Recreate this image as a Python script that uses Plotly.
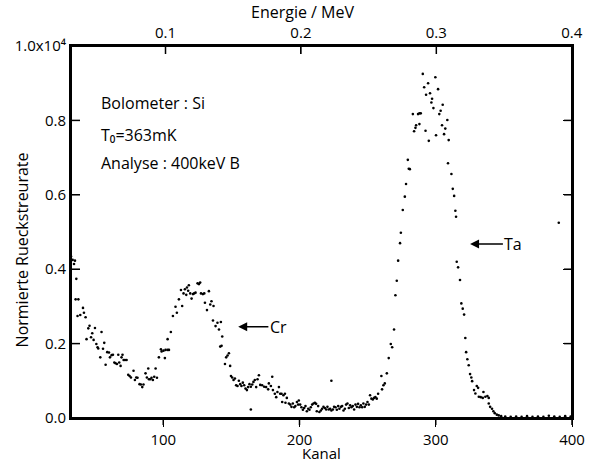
import plotly.graph_objects as go

# ---- data (Kanal, normalised backscatter rate) ----
kanal_bg = [32.3, 33.5, 34.5, 35.2, 36.2, 35.7, 37.7, 37.1, 39.1, 41.1, 41.8, 43.0, 43.7, 45.0, 45.9,
            47.0, 47.9, 48.9, 49.9, 50.9, 51.8, 52.3, 53.8, 54.7, 55.8, 56.7, 57.7, 58.9, 60.2, 60.9,
            62.1, 63.1, 64.1, 65.0, 66.0, 67.0, 67.7, 68.7, 69.4, 70.1, 70.9, 71.9, 73.1, 74.3, 75.3,
            76.3, 78.2, 79.2, 80.2, 81.1, 82.6, 83.6, 84.6, 85.5, 87.0, 88.0, 89.0, 89.5, 90.5, 91.4,
            92.4, 93.4, 94.4, 95.4, 96.8, 98.3]
rate_bg = [0.435, 0.425, 0.414, 0.423, 0.374, 0.319, 0.319, 0.274, 0.277, 0.296, 0.283, 0.271, 0.212, 0.241, 0.248,
           0.217, 0.228, 0.210, 0.242, 0.199, 0.190, 0.187, 0.163, 0.231, 0.186, 0.202, 0.143, 0.177, 0.176, 0.163,
           0.169, 0.170, 0.149, 0.147, 0.145, 0.170, 0.149, 0.140, 0.163, 0.170, 0.156, 0.156, 0.156, 0.116, 0.113,
           0.109, 0.127, 0.102, 0.109, 0.108, 0.091, 0.090, 0.083, 0.090, 0.120, 0.109, 0.133, 0.104, 0.104, 0.108,
           0.102, 0.111, 0.133, 0.108, 0.163, 0.185]

kanal_cr = [98.8, 100.2, 101.7, 103.2, 104.2, 101.2, 103.2, 105.6, 107.1, 109.0, 110.0, 111.5, 113.0, 113.9, 114.9,
            115.9, 116.9, 117.4, 118.3, 118.8, 119.8, 120.8, 121.8, 122.7, 123.7, 125.2, 126.2, 127.1, 127.7, 129.1,
            130.1, 130.6, 132.1, 133.5, 134.5, 135.4, 136.9, 136.5, 138.4, 139.8, 140.9, 142.3, 143.3, 141.8, 142.8,
            145.3, 146.2, 147.2, 148.2, 149.1, 149.7, 150.6, 151.6, 152.6, 153.5, 154.5, 155.5, 156.5, 157.4, 158.4,
            159.4, 160.4, 161.4, 162.3, 163.3, 164.3, 165.3, 166.2, 167.2, 168.2, 169.2, 170.2, 164.3]
rate_cr = [0.179, 0.181, 0.183, 0.183, 0.183, 0.161, 0.212, 0.231, 0.274, 0.299, 0.283, 0.319, 0.344, 0.301, 0.335,
           0.346, 0.331, 0.351, 0.342, 0.357, 0.335, 0.321, 0.333, 0.335, 0.337, 0.362, 0.360, 0.364, 0.335, 0.333,
           0.335, 0.310, 0.290, 0.341, 0.305, 0.314, 0.301, 0.262, 0.247, 0.256, 0.238, 0.258, 0.219, 0.192, 0.194,
           0.145, 0.163, 0.168, 0.174, 0.140, 0.113, 0.109, 0.102, 0.106, 0.088, 0.086, 0.100, 0.091, 0.086, 0.095,
           0.088, 0.079, 0.075, 0.083, 0.091, 0.084, 0.090, 0.097, 0.102, 0.083, 0.104, 0.115, 0.023]

kanal_mid = [171.2, 172.6, 174.1, 175.5, 177.0, 177.5, 179.0, 180.0, 180.5, 181.9, 182.9, 183.8, 184.9, 185.8, 187.3,
             186.8, 188.2, 189.3, 189.7, 190.7, 192.2, 193.2, 194.1, 195.1, 196.1, 197.0, 198.1, 199.0, 199.5, 200.5,
             201.4, 202.5, 203.4, 204.4, 205.4, 206.4, 207.3, 208.3, 209.3, 210.3, 211.3, 212.2, 212.7, 213.7, 214.6,
             215.7, 216.6, 217.6, 218.6, 219.6, 220.5, 221.5, 222.5, 223.4, 223.4, 224.5, 225.4, 226.4, 227.4, 228.4,
             229.3, 230.4, 231.3, 232.3, 233.3, 234.2, 235.2, 236.2, 237.2, 238.1, 239.1, 240.1, 241.1, 242.1, 243.0,
             244.0, 245.0, 246.0, 246.9, 247.9, 248.9, 249.9, 250.9, 251.8, 252.8, 253.8, 254.8, 255.7, 256.7, 257.7]
rate_mid = [0.089, 0.088, 0.084, 0.083, 0.077, 0.093, 0.086, 0.111, 0.075, 0.065, 0.056, 0.070, 0.083, 0.065, 0.043,
            0.065, 0.061, 0.065, 0.041, 0.054, 0.039, 0.036, 0.030, 0.039, 0.029, 0.032, 0.043, 0.036, 0.047, 0.036,
            0.029, 0.022, 0.027, 0.032, 0.018, 0.025, 0.022, 0.029, 0.036, 0.039, 0.041, 0.038, 0.018, 0.032, 0.016,
            0.020, 0.025, 0.030, 0.027, 0.023, 0.030, 0.023, 0.025, 0.020, 0.100, 0.023, 0.030, 0.029, 0.022, 0.032,
            0.025, 0.030, 0.032, 0.020, 0.025, 0.036, 0.039, 0.027, 0.034, 0.029, 0.032, 0.023, 0.036, 0.030, 0.038,
            0.029, 0.034, 0.029, 0.039, 0.030, 0.036, 0.043, 0.036, 0.061, 0.052, 0.050, 0.054, 0.056, 0.052, 0.065]

kanal_ta = [260.1, 260.6, 261.6, 262.6, 264.1, 265.5, 267.0, 268.0, 269.4, 270.4, 271.4, 272.4, 273.8, 274.4, 275.8,
            277.3, 278.2, 279.5, 281.0, 280.2, 283.2, 284.1, 285.1, 285.6, 287.0, 288.0, 289.0, 288.0, 290.5, 291.5,
            292.5, 292.9, 294.4, 294.9, 295.8, 296.8, 297.3, 298.3, 299.7, 300.2, 301.7, 302.6, 303.6, 304.6, 305.1,
            306.1, 307.0, 308.5, 309.5, 309.0, 311.5, 312.5, 313.5, 314.4, 314.9, 315.4, 316.4, 317.8, 318.8, 319.8,
            320.8, 321.7, 322.3, 323.2, 324.2, 325.2, 326.1, 326.7, 328.1, 329.1, 330.1, 331.1, 331.6, 333.0, 334.5,
            335.0, 336.4, 337.9, 338.9, 338.9, 339.9, 341.3, 342.3, 343.3, 344.8, 346.2]
rate_ta = [0.113, 0.077, 0.088, 0.093, 0.120, 0.161, 0.199, 0.190, 0.238, 0.330, 0.369, 0.423, 0.470, 0.498, 0.559,
           0.595, 0.629, 0.694, 0.669, 0.670, 0.817, 0.771, 0.780, 0.787, 0.817, 0.819, 0.819, 0.790, 0.925, 0.889,
           0.772, 0.869, 0.900, 0.745, 0.873, 0.848, 0.858, 0.833, 0.916, 0.760, 0.884, 0.817, 0.826, 0.787, 0.842,
           0.763, 0.778, 0.801, 0.747, 0.685, 0.656, 0.616, 0.597, 0.557, 0.541, 0.420, 0.405, 0.371, 0.308, 0.294,
           0.278, 0.215, 0.177, 0.158, 0.142, 0.118, 0.109, 0.099, 0.075, 0.066, 0.086, 0.081, 0.057, 0.056, 0.054,
           0.070, 0.057, 0.059, 0.054, 0.039, 0.030, 0.025, 0.018, 0.013, 0.009, 0.007]

kanal_tail = [348, 351, 355, 359, 363, 367, 371, 375, 379, 383, 387, 391, 395, 399, 390.3]
rate_tail = [0.005, 0.004, 0.003, 0.004, 0.003, 0.005, 0.003, 0.004, 0.003, 0.006, 0.004, 0.003, 0.005, 0.004, 0.525]

kanal_ticks = [100, 200, 300, 400]
energie_ticks = [0.1, 0.2, 0.3, 0.4]
rate_ticks = [0.0, 0.2, 0.4, 0.6, 0.8, 1.0]
rate_ticktext = ["0.0", "0.2", "0.4", "0.6", "0.8", "1.0x10\u2074"]

kanal = kanal_bg + kanal_cr + kanal_mid + kanal_ta + kanal_tail
rate = rate_bg + rate_cr + rate_mid + rate_ta + rate_tail

PLOT_W, PLOT_H = 501.0, 372.0   # plot area size in pixels (for tick lengths)

fig = go.Figure()
fig.add_trace(go.Scatter(x=kanal, y=rate, mode="markers", marker=dict(size=2.6, color="black")))
# helper trace to activate the top (Energie) axis
fig.add_trace(go.Scatter(x=[0.1], y=[0.0], xaxis="x2", yaxis="y", mode="markers",
                         marker=dict(opacity=0), hoverinfo="skip"))

fig.update_layout(
    width=604, height=464,
    margin=dict(l=71, r=32, t=46, b=46),
    plot_bgcolor="white", showlegend=False,
    xaxis=dict(range=[32.3, 400], tickvals=kanal_ticks, showline=True, linecolor="black", linewidth=2,
               ticks="outside", ticklen=7, tickcolor="black", showgrid=False, zeroline=False,
               tickfont=dict(size=15, color="black")),
    xaxis2=dict(range=[0.0302, 0.4002], tickvals=energie_ticks,
                ticktext=["%.1f" % v for v in energie_ticks],
                overlaying="x", side="top", anchor="y", showline=True, linecolor="black", linewidth=2,
                ticks="inside", ticklen=8, tickcolor="black", showgrid=False, zeroline=False,
                tickfont=dict(size=15, color="black")),
    yaxis=dict(range=[0, 1.0], tickvals=rate_ticks, ticktext=rate_ticktext, showline=True,
               linecolor="black", linewidth=2, ticks="inside", ticklen=9, mirror="ticks",
               tickcolor="black", showgrid=False, zeroline=False,
               tickfont=dict(size=15, color="black")),
)

# frame and tick marks (also drawn as shapes, positioned through the axes)
LINE = dict(color="black", width=2)
TICK = dict(color="black", width=1.5)
shapes = [dict(type="rect", xref="paper", yref="paper", x0=0, x1=1, y0=0, y1=1, line=LINE, layer="above")]
for v in kanal_ticks:
    shapes.append(dict(type="line", xref="x", yref="paper", x0=v, x1=v, y0=0, y1=-7 / PLOT_H, line=TICK))
for v in energie_ticks:
    shapes.append(dict(type="line", xref="x2", yref="paper", x0=v, x1=v, y0=1, y1=1 - 8 / PLOT_H, line=TICK))
for v in rate_ticks[1:-1]:
    shapes.append(dict(type="line", xref="paper", yref="y", x0=0, x1=9 / PLOT_W, y0=v, y1=v, line=TICK))
    shapes.append(dict(type="line", xref="paper", yref="y", x0=1, x1=1 - 8 / PLOT_W, y0=v, y1=v, line=TICK))
fig.update_layout(shapes=shapes)

TXT = dict(size=16, color="black")
ann = [
    dict(text="Energie / MeV", xref="paper", yref="paper", x=0.4616, y=1.0914,
         showarrow=False, xanchor="center", yanchor="middle", font=TXT),
    dict(text="Kanal", xref="paper", yref="paper", x=0.5, y=-0.094,
         showarrow=False, xanchor="center", yanchor="middle", font=dict(size=15, color="black")),
    dict(text="Normierte Rueckstreurate", xref="paper", yref="paper", x=-0.097, y=0.4516,
         textangle=-90, showarrow=False, xanchor="center", yanchor="middle", font=TXT),
    dict(text="Bolometer : Si", xref="paper", yref="paper", x=0.0565, y=0.847,
         showarrow=False, xanchor="left", yanchor="middle", font=TXT),
    dict(text="T\u2080=363mK", xref="paper", yref="paper", x=0.0565, y=0.761,
         showarrow=False, xanchor="left", yanchor="middle", font=TXT),
    dict(text="Analyse : 400keV B", xref="paper", yref="paper", x=0.0565, y=0.685,
         showarrow=False, xanchor="left", yanchor="middle", font=TXT),
    # labelled arrows to the peaks (text sits at the arrow tail)
    dict(text="Cr", x=155.0, y=0.245, ax=184.5, ay=0.245, xref="x", yref="y", axref="x", ayref="y",
         showarrow=True, arrowhead=2, arrowsize=1.2, arrowwidth=1.5, arrowcolor="black", font=TXT),
    dict(text="Ta", x=325.2, y=0.468, ax=357.0, ay=0.468, xref="x", yref="y", axref="x", ayref="y",
         showarrow=True, arrowhead=2, arrowsize=1.2, arrowwidth=1.5, arrowcolor="black", font=TXT),
]
fig.update_layout(annotations=ann)

fig.write_html("out.html")
